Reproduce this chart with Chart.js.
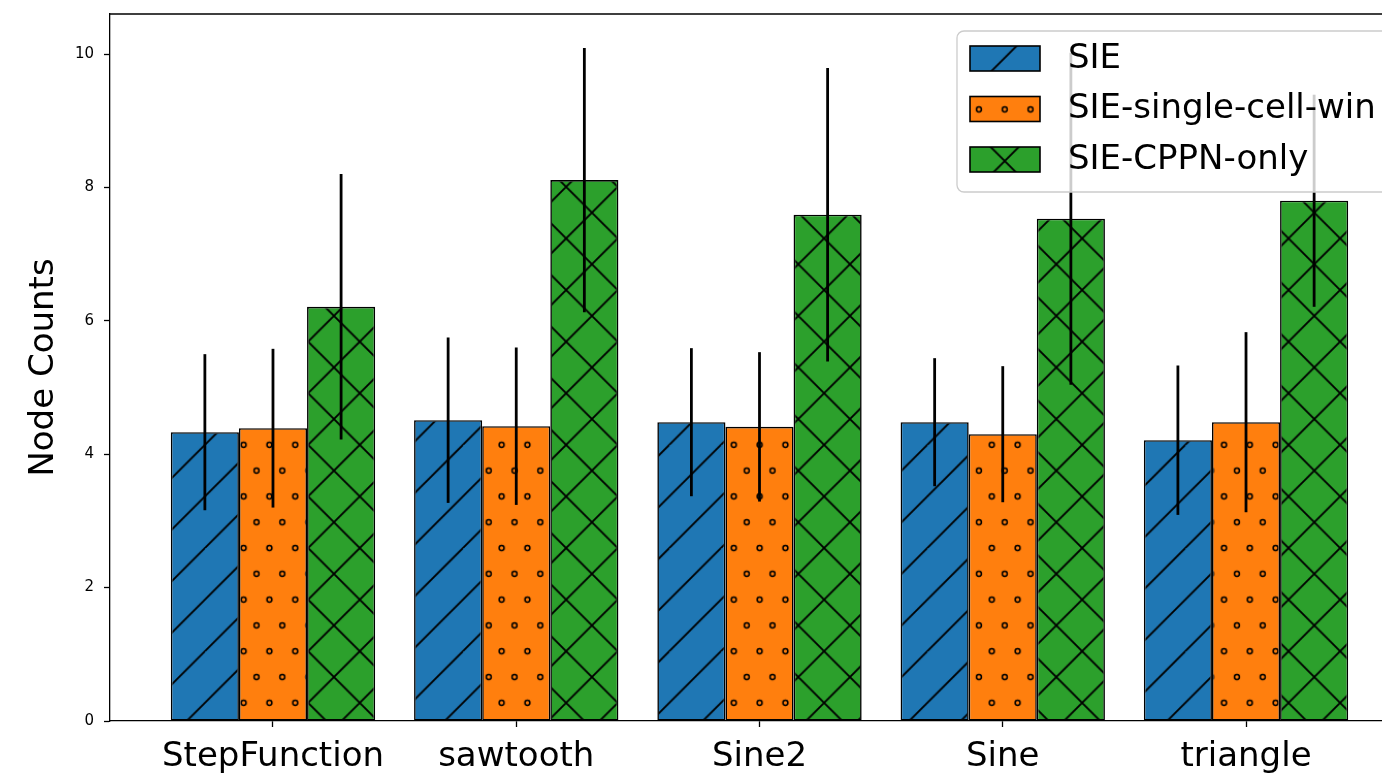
<!DOCTYPE html>
<html>
<head>
<meta charset="utf-8">
<script src="https://cdn.jsdelivr.net/npm/chart.js@4.4.1/dist/chart.umd.min.js"></script>
<style>
  html, body { margin: 0; padding: 0; overflow: hidden; background: #fff; }
  #wrap { width: 1430px; height: 777px; }
</style>
</head>
<body>
<div id="wrap"><canvas id="barchart" width="1430" height="777"></canvas></div>
<script>
// data
const categories = ['StepFunction', 'sawtooth', 'Sine2', 'Sine', 'triangle'];
const seriesNames = ['SIE', 'SIE-single-cell-win', 'SIE-CPPN-only'];
const sieMean = [4.33, 4.51, 4.48, 4.48, 4.21];
const sieErr = [1.17, 1.24, 1.11, 0.96, 1.12];
const singleMean = [4.39, 4.42, 4.41, 4.30, 4.48];
const singleErr = [1.19, 1.18, 1.12, 1.02, 1.35];
const cppnMean = [6.21, 8.11, 7.59, 7.53, 7.80];
const cppnErr = [1.99, 1.98, 2.20, 2.49, 1.59];
const yTicks = [0, 2, 4, 6, 8, 10];

const colors = ['#1f77b4', '#ff7f0e', '#2ca02c'];
const FONT = "'DejaVu Sans', sans-serif";

// hatch patterns, anchored to the canvas like matplotlib does
const PERIOD = 51.6;
function makeHatch(color, kind) {
  const c = document.createElement('canvas');
  c.width = 100; c.height = 100;
  const g = c.getContext('2d');
  g.fillStyle = color;
  g.fillRect(0, 0, 100, 100);
  g.strokeStyle = '#000';
  g.lineWidth = 1.8;
  if (kind === '/' || kind === 'x') {
    g.beginPath();
    for (let k = -2; k <= 6; k++) {
      g.moveTo(k * 50 - 100, 100 + 100);
      g.lineTo(k * 50 + 100, 100 - 100);
    }
    if (kind === 'x') {
      for (let k = -4; k <= 4; k++) {
        g.moveTo(k * 50 - 100, -100);
        g.lineTo(k * 50 + 200, 200);
      }
    }
    g.stroke();
  } else {
    g.lineWidth = 1.5;
    const pts = [];
    for (let i = -1; i <= 4; i++) {
      for (let j = -1; j <= 4; j++) {
        pts.push([12.5 + i * 25, j * 50]);
        pts.push([i * 25, j * 50 + 25]);
      }
    }
    pts.forEach(p => {
      g.beginPath();
      g.arc(p[0], p[1], 2.4, 0, Math.PI * 2);
      g.stroke();
    });
  }
  const pat = g.createPattern(c, 'repeat');
  const s = PERIOD / 50;
  pat.setTransform(new DOMMatrix().translate(-1.5, 32).scale(s, s));
  return pat;
}
const hatches = [makeHatch(colors[0], '/'), makeHatch(colors[1], 'o'), makeHatch(colors[2], 'x')];

const means = [sieMean, singleMean, cppnMean];
const errs = [sieErr, singleErr, cppnErr];

const datasets = seriesNames.map((name, k) => ({
  label: name,
  data: means[k].map((v, i) => ({ x: i, y: v })),
  backgroundColor: hatches[k],
  borderColor: '#000',
  borderWidth: 1.6,
  borderSkipped: false,
  categoryPercentage: 0.84,
  barPercentage: 1.0
}));

const errorBars = {
  id: 'errorBars',
  afterDatasetsDraw(chart) {
    const ctx = chart.ctx;
    const y = chart.scales.y;
    ctx.save();
    ctx.strokeStyle = '#000';
    ctx.lineWidth = 2.8;
    chart.data.datasets.forEach((ds, k) => {
      const meta = chart.getDatasetMeta(k);
      meta.data.forEach((bar, i) => {
        const m = means[k][i], e = errs[k][i];
        ctx.beginPath();
        ctx.moveTo(bar.x, y.getPixelForValue(m - e));
        ctx.lineTo(bar.x, y.getPixelForValue(m + e));
        ctx.stroke();
      });
    });
    // axes frame (top and right spines)
    const a = chart.chartArea;
    ctx.lineWidth = 1.3;
    ctx.beginPath();
    ctx.moveTo(a.left, a.top);
    ctx.lineTo(a.right, a.top);
    ctx.lineTo(a.right, a.bottom);
    ctx.stroke();
    ctx.restore();
  }
};

const hatchLegend = {
  id: 'hatchLegend',
  afterDraw(chart) {
    const ctx = chart.ctx;
    ctx.save();
    const lx = 957, ly = 31, lw = 460, lh = 161, r = 7;
    ctx.beginPath();
    ctx.roundRect(lx, ly, lw, lh, r);
    ctx.fillStyle = 'rgba(255,255,255,0.8)';
    ctx.fill();
    ctx.strokeStyle = '#cccccc';
    ctx.lineWidth = 1.3;
    ctx.stroke();
    ctx.font = '34px ' + FONT;
    ctx.textBaseline = 'middle';
    ctx.textAlign = 'left';
    seriesNames.forEach((name, k) => {
      const py = 46 + k * 50.5;
      ctx.fillStyle = hatches[k];
      ctx.fillRect(970, py, 70, 25);
      ctx.strokeStyle = '#000';
      ctx.lineWidth = 1.6;
      ctx.strokeRect(970, py, 70, 25);
      ctx.fillStyle = '#000';
      ctx.fillText(name, 1068, py + 13);
    });
    ctx.restore();
  }
};

const ctx = document.getElementById('barchart').getContext('2d');
const myChart = new Chart(ctx, {
  type: 'bar',
  data: { datasets: datasets },
  options: {
    responsive: false,
    animation: false,
    layout: { padding: { top: 14, right: 21, left: 0, bottom: 0 } },
    plugins: { legend: { display: false }, tooltip: { enabled: false } },
    scales: {
      x: {
        type: 'linear',
        min: -0.67,
        max: 4.67,
        offset: false,
        grid: { display: true, offset: false, drawOnChartArea: false, drawTicks: true, tickLength: 6, tickColor: '#000', tickWidth: 1.3 },
        border: { display: true, color: '#000', width: 1.3 },
        ticks: {
          font: { family: FONT, size: 34 },
          color: '#000',
          padding: 10,
          maxRotation: 0,
          autoSkip: false,
          callback: (v) => categories[v]
        },
        afterBuildTicks: (scale) => { scale.ticks = categories.map((c, i) => ({ value: i })); },
        afterFit: (scale) => { scale.height = 56; scale.paddingLeft = 0; scale.paddingRight = 0; }
      },
      y: {
        min: 0,
        max: 10.6,
        grid: { display: true, drawOnChartArea: false, drawTicks: true, tickLength: 6, tickColor: '#000', tickWidth: 1.3 },
        border: { display: true, color: '#000', width: 1.3 },
        ticks: {
          font: { family: FONT, size: 15 },
          color: '#000',
          padding: 10
        },
        afterBuildTicks: (scale) => { scale.ticks = yTicks.map(v => ({ value: v })); },
        title: {
          display: true,
          text: 'Node Counts',
          color: '#000',
          font: { family: FONT, size: 34 },
          padding: { top: 24, bottom: 0 }
        },
        afterFit: (scale) => { scale.width = 110; scale.paddingTop = 0; scale.paddingBottom = 0; }
      }
    }
  },
  plugins: [errorBars, hatchLegend]
});
</script>
</body>
</html>
